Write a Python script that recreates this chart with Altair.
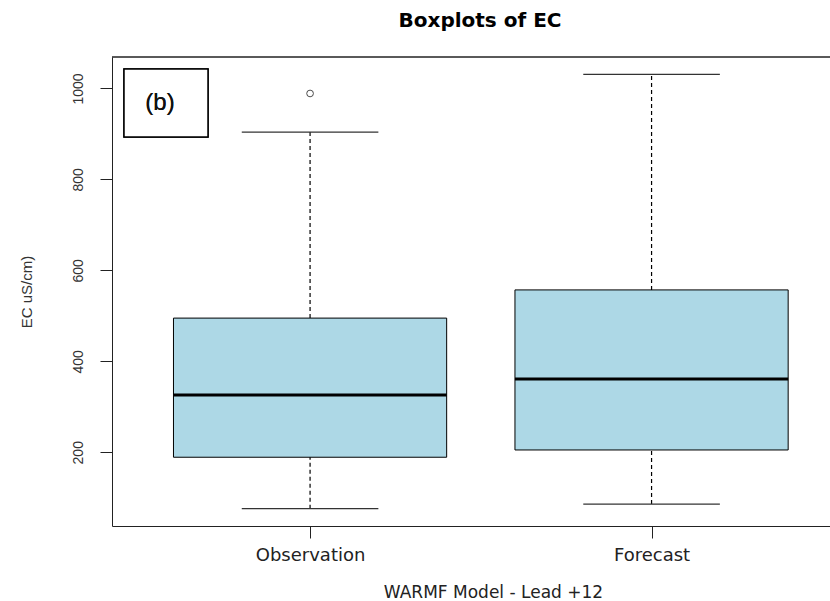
import json
import altair as alt
import pandas as pd

# ---- data ----
groups = ["Observation", "Forecast"]
positions = [1, 2]
lower = [76, 86]
q1 = [189, 205]
median = [326, 361]
q3 = [495, 557]
upper = [904, 1031]
outlier_group = ["Observation"]
outlier_pos = [1]
outlier_values = [989]
y_ticks = [200, 400, 600, 800, 1000]
panel_label = "(b)"

df = pd.DataFrame(dict(group=groups, pos=positions, lower=lower, q1=q1,
                       median=median, q3=q3, upper=upper))
out_df = pd.DataFrame(dict(group=outlier_group, pos=outlier_pos, value=outlier_values))

W, H = 718, 469
xscale = alt.Scale(domain=[0.42, 2.5225], nice=False, zero=False)
yscale = alt.Scale(domain=[37.8, 1069.2], nice=False, zero=False)

label_expr = json.dumps(groups) + "[datum.value - 1]"

x_axis = alt.Axis(
    values=positions, labelExpr=label_expr, title="WARMF Model - Lead +12",
    grid=False, domain=True, domainColor="#222", tickColor="#222", tickSize=12,
    labelFont="DejaVu Sans", labelFontSize=18, labelColor="#222",
    labelBaseline="alphabetic", labelPadding=22, labelAlign="center",
    titleFont="DejaVu Sans", titleFontSize=17, titleFontWeight="normal", titleColor="#222",
    titleX=381, titleY=71, titleAlign="center", titleBaseline="alphabetic",
)
y_axis = alt.Axis(
    values=y_ticks, format="d", title="EC uS/cm)", grid=False, domain=True,
    domainColor="#222", tickColor="#222", tickSize=12,
    labelFont="Liberation Sans", labelFontSize=14, labelColor="#333",
    labelAngle=270, labelAlign="center", labelBaseline="alphabetic", labelPadding=18,
    titleFont="Liberation Sans", titleFontSize=15, titleFontWeight="normal", titleColor="#333",
    titleAngle=270, titleX=-81, titleY=H / 2, titleAlign="center", titleBaseline="alphabetic",
)

base = alt.Chart(df).transform_calculate(
    left="datum.pos - 0.4", right="datum.pos + 0.4",
    capl="datum.pos - 0.2", capr="datum.pos + 0.2",
)

def X(f):
    return alt.X(f, type="quantitative", scale=xscale, axis=x_axis)

def Y(f):
    return alt.Y(f, type="quantitative", scale=yscale, axis=y_axis)

whisk_lo = base.mark_rule(color="black", strokeWidth=1.2, strokeDash=[4, 3]).encode(
    x=X("pos"), y=Y("lower"), y2="q1")
whisk_hi = base.mark_rule(color="black", strokeWidth=1.2, strokeDash=[4, 3]).encode(
    x=X("pos"), y=Y("q3"), y2="upper")
cap_lo = base.mark_rule(color="#333", strokeWidth=1.2).encode(
    x=X("capl"), x2="capr", y=Y("lower"))
cap_hi = base.mark_rule(color="#333", strokeWidth=1.2).encode(
    x=X("capl"), x2="capr", y=Y("upper"))
boxes = base.mark_rect(fill="#ADD8E6", stroke="black", strokeWidth=1).encode(
    x=X("left"), x2="right", y=Y("q1"), y2="q3")
med = base.mark_rule(color="black", strokeWidth=3).encode(
    x=X("left"), x2="right", y=Y("median"))
outl = alt.Chart(out_df).mark_point(shape="circle", filled=False, size=45,
                                    stroke="black", strokeWidth=1).encode(
    x=X("pos"), y=Y("value"))

top_frame = alt.Chart(df).mark_rule(color="#222", strokeWidth=1).encode(
    x=alt.value(0), x2=alt.value(W), y=alt.value(0))
legend_box = alt.Chart(df).mark_rect(fill="white", stroke="black", strokeWidth=1.5).encode(
    x=alt.value(12), x2=alt.value(96), y=alt.value(12), y2=alt.value(80))
legend_text = alt.Chart(df).mark_text(font="Liberation Sans", fontSize=24, color="#111",
                                      align="center", baseline="middle").encode(
    x=alt.value(48), y=alt.value(46), text=alt.value(panel_label))

chart = alt.layer(
    boxes, whisk_lo, whisk_hi, cap_lo, cap_hi, med, outl,
    top_frame, legend_box, legend_text,
).properties(
    width=W, height=H,
    autosize="none",
    padding={"left": 112, "top": 57, "right": 0, "bottom": 75},
    title=alt.TitleParams("Boxplots of EC", font="DejaVu Sans", fontSize=20,
                          fontWeight="bold", anchor="middle", dx=9, offset=10,
                          baseline="alphabetic", color="black"),
    background="white",
).configure_view(stroke=None)

chart.save("out.html", embed_options={"renderer": "svg", "actions": False})
